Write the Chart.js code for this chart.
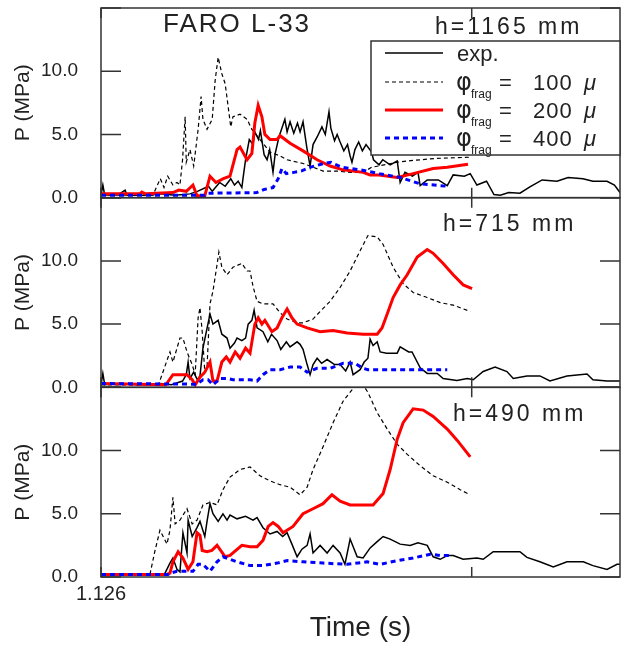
<!DOCTYPE html>
<html>
<head>
<meta charset="utf-8">
<script src="https://cdn.jsdelivr.net/npm/chart.js@4.4.1/dist/chart.umd.min.js"></script>
<style>
  html, body { margin: 0; padding: 0; background: #fff; }
  #wrap { width: 621px; height: 645px; }
</style>
</head>
<body>
<div id="wrap"><canvas id="faroChart" width="621" height="645"></canvas></div>
<script>
//------------------------------------------------------------------------------
// FARO L-33 壓力歷程：三個高度 (h=1165 / 715 / 490 mm)
// 時間以 t0 = 1.126 s 起算 (ms)，壓力單位 MPa，資料為 [t, P]

const T_MAX = 14;                 // 時間軸長度 (ms)
const xTickValues = [0, 10];      // 只有 t0 標字
const xTickLabels = ['1.126', ''];

const panelTitles = ['h=1165 mm', 'h=715 mm', 'h=490 mm'];
const seriesNames = ['exp.', '100', '200', '400'];   // 碎片粒徑 (μ)

// ---- h=1165 mm
const exp1165 = [[0,0.2],[0.05,1.0],[0.1,0.2],[0.5,0.3],[0.65,0.6],[0.7,0.2],[1.3,0.2],[1.6,0.3],[2.0,0.2],[2.4,0.3],
  [2.6,0.5],[2.9,0.9],[3.0,0.5],[3.2,1.2],[3.35,0.9],[3.5,1.5],[3.6,1.0],[3.7,1.3],[3.8,0.8],[3.83,1.5],[3.9,3.0],
  [4.0,4.6],[4.1,4.2],[4.15,5.2],[4.25,4.6],[4.3,5.3],[4.4,3.4],[4.48,3.0],[4.55,3.8],[4.64,2.0],[4.7,3.5],[4.8,4.8],
  [4.96,6.2],[5.02,5.2],[5.1,6.0],[5.2,5.1],[5.3,5.9],[5.37,5.2],[5.45,6.0],[5.55,4.0],[5.64,2.5],[5.72,4.2],[5.83,4.8],
  [5.96,5.6],[6.05,5.0],[6.15,6.8],[6.2,5.5],[6.3,4.5],[6.37,5.0],[6.45,4.4],[6.55,3.7],[6.65,4.2],[6.72,3.3],[6.77,2.8],
  [6.85,3.8],[6.95,4.4],[7.05,3.7],[7.15,4.2],[7.3,3.6],[7.35,3.0],[7.5,2.6],[7.6,3.0],[7.8,2.6],[7.99,2.9],[8.07,1.2],
  [8.2,2.0],[8.4,1.7],[8.55,2.0],[8.61,0.95],[8.8,1.4],[9.1,1.4],[9.34,0.95],[9.5,1.8],[9.8,1.7],[9.96,1.9],[10.14,1.0],
  [10.4,1.3],[10.6,0.25],[10.77,0.2],[11.0,0.4],[11.3,0.35],[11.57,0.85],[11.9,1.4],[12.3,1.3],[12.6,1.6],[13.0,1.5],
  [13.27,1.3],[13.65,1.3],[13.85,1.0],[14.0,0.4]];
const d100_1165 = [[0,0.2],[1.4,0.2],[1.6,1.5],[1.7,0.8],[1.8,1.7],[1.94,1.0],[2.05,1.2],[2.13,1.0],[2.2,3.0],[2.27,6.4],
  [2.3,2.8],[2.4,3.8],[2.5,2.5],[2.62,5.4],[2.7,8.0],[2.75,6.2],[2.86,5.4],[3.0,6.2],[3.08,9.3],[3.16,11.1],[3.26,9.8],
  [3.35,9.0],[3.43,7.2],[3.5,5.6],[3.56,6.4],[3.75,6.6],[3.94,6.2],[4.07,5.4],[4.29,4.6],[4.56,3.6],[4.83,3.3],[5.02,3.0],
  [5.45,2.7],[5.64,2.5],[5.99,2.1],[6.37,2.1],[6.72,2.0],[7.07,2.0],[7.3,2.4],[7.99,2.8],[8.26,2.9],[9.0,3.1],[9.96,3.2]];
const d200_1165 = [[0,0.3],[1.05,0.3],[1.1,0.45],[1.2,0.3],[1.94,0.4],[2.1,0.6],[2.3,0.5],[2.48,1.0],[2.59,0.15],[2.8,0.15],
  [2.94,1.7],[3.1,1.2],[3.3,1.5],[3.48,1.7],[3.67,3.8],[3.75,4.0],[3.94,3.0],[4.07,3.5],[4.15,5.9],[4.24,7.3],[4.34,6.4],
  [4.42,5.0],[4.56,4.6],[4.75,4.6],[4.83,4.9],[5.1,4.3],[5.45,3.7],[5.83,3.0],[6.18,2.5],[6.53,2.2],[7.07,2.0],[7.26,1.8],
  [7.5,1.8],[7.99,1.6],[8.42,1.9],[8.96,2.3],[9.34,2.4],[9.9,2.65]];
const d400_1165 = [[0,0.2],[2.8,0.2],[2.9,0.35],[4.2,0.4],[4.4,0.65],[4.64,0.8],[4.78,1.5],[4.88,2.3],[5.0,1.9],[5.2,2.0],
  [5.4,2.1],[5.64,2.4],[6.0,2.7],[6.2,2.8],[6.5,2.4],[7.0,2.2],[7.5,1.9],[8.07,1.6],[8.6,1.1],[9.34,0.9]];

// ---- h=715 mm
const exp715 = [[0,0.2],[0.05,1.1],[0.1,0.2],[0.5,0.3],[1.0,0.2],[1.6,0.3],[1.9,0.2],[2.2,0.5],[2.3,1.0],[2.35,2.0],
  [2.4,0.7],[2.5,1.2],[2.6,0.6],[2.67,0.9],[2.75,3.1],[2.94,5.8],[3.02,5.0],[3.16,5.3],[3.26,4.2],[3.4,3.9],[3.48,3.1],
  [3.6,3.5],[3.67,3.9],[3.8,3.7],[3.9,3.9],[3.97,5.0],[4.07,5.3],[4.13,6.1],[4.21,4.7],[4.37,4.4],[4.5,3.6],[4.6,4.2],
  [4.75,3.7],[4.85,3.0],[5.0,3.6],[5.1,3.2],[5.29,3.6],[5.37,3.4],[5.45,3.0],[5.56,1.8],[5.64,1.0],[5.72,1.8],[5.83,2.3],
  [5.95,1.9],[6.1,2.2],[6.3,1.8],[6.45,1.8],[6.6,1.3],[6.72,2.0],[6.8,1.0],[6.99,1.4],[7.1,2.0],[7.2,2.3],[7.26,3.8],
  [7.34,3.3],[7.45,3.6],[7.53,2.8],[7.7,2.7],[7.99,2.7],[8.07,3.2],[8.3,2.8],[8.39,2.8],[8.61,1.55],[8.8,1.1],[9.07,1.1],
  [9.23,0.7],[9.6,0.55],[9.88,0.7],[10.04,0.6],[10.31,1.25],[10.63,1.6],[10.95,1.25],[11.12,0.7],[11.49,0.9],[11.84,0.9],
  [12.11,0.5],[12.57,0.9],[13.11,1.05],[13.27,0.6],[13.65,0.5],[14.0,0.5]];
const d100_715 = [[0,0.2],[1.55,0.2],[1.86,2.8],[1.94,2.0],[2.13,3.9],[2.21,3.9],[2.32,2.8],[2.46,1.8],[2.54,1.0],[2.62,5.5],
  [2.67,6.3],[2.73,4.4],[2.8,1.2],[2.86,1.6],[2.94,6.6],[3.02,7.6],[3.13,9.7],[3.18,10.7],[3.26,9.5],[3.4,8.9],[3.56,9.5],
  [3.8,9.8],[3.94,9.2],[4.02,9.2],[4.1,8.0],[4.21,6.8],[4.37,6.6],[4.64,6.6],[4.83,5.9],[5.02,5.4],[5.29,5.1],[5.45,5.1],
  [5.72,5.4],[5.91,6.0],[6.18,6.8],[6.45,7.9],[6.72,9.2],[6.99,10.8],[7.2,12.0],[7.45,11.9],[7.61,11.3],[7.88,9.5],
  [8.15,8.2],[8.42,7.5],[8.8,7.1],[9.15,6.7],[9.5,6.5],[9.96,6.0]];
const d200_715 = [[0,0.3],[1.75,0.2],[1.94,1.0],[2.32,1.0],[2.46,0.6],[2.54,0.2],[2.67,0.8],[2.8,1.2],[2.94,2.0],[3.02,0.5],
  [3.13,0.5],[3.26,2.0],[3.38,2.4],[3.48,2.0],[3.62,2.8],[3.75,2.3],[3.9,3.1],[4.02,2.7],[4.15,5.0],[4.24,5.5],[4.34,5.0],
  [4.42,5.3],[4.61,4.4],[4.75,4.7],[4.88,5.5],[5.02,6.2],[5.15,5.5],[5.29,5.0],[5.56,4.7],[5.91,4.4],[6.26,4.5],[6.64,4.3],
  [7.07,4.2],[7.45,4.2],[7.58,4.7],[7.72,5.8],[7.88,7.1],[8.07,8.1],[8.26,8.9],[8.53,10.3],[8.8,10.9],[8.96,10.6],
  [9.23,9.8],[9.5,8.9],[9.77,8.1],[10.01,7.8]];
const d400_715 = [[0,0.3],[2.59,0.25],[2.75,0.6],[2.89,0.6],[3.02,0.2],[3.21,0.7],[3.4,0.7],[3.56,0.6],[4.02,0.6],[4.21,0.5],
  [4.37,1.0],[4.56,1.4],[4.83,1.4],[5.1,1.6],[5.37,1.6],[5.56,1.2],[5.83,1.5],[6.18,1.5],[6.53,1.9],[6.85,1.9],[7.07,1.5],
  [7.2,1.4],[9.34,1.4]];

// ---- h=490 mm
const exp490 = [[0,0.2],[1.6,0.2],[1.7,0.15],[1.86,1.1],[1.94,1.5],[2.05,0.6],[2.13,0.4],[2.21,3.5],[2.32,1.9],[2.35,4.5],
  [2.46,3.2],[2.59,3.9],[2.67,4.4],[2.8,3.2],[2.86,4.4],[2.94,5.8],[3.02,5.0],[3.16,4.4],[3.29,5.0],[3.4,4.5],[3.48,4.9],
  [3.67,4.6],[3.9,4.8],[4.1,4.5],[4.21,4.7],[4.37,3.9],[4.56,3.4],[4.75,3.6],[4.9,3.2],[5.02,3.5],[5.15,2.6],[5.29,1.6],
  [5.42,2.2],[5.56,2.5],[5.64,3.4],[5.72,1.9],[5.91,2.5],[6.1,1.9],[6.26,2.5],[6.45,1.9],[6.58,1.0],[6.72,3.0],[6.91,1.6],
  [7.07,1.5],[7.26,2.3],[7.45,2.8],[7.61,3.2],[7.8,3.0],[8.07,2.6],[8.34,2.5],[8.55,2.7],[8.8,2.5],[8.96,1.6],[9.15,1.4],
  [9.34,1.7],[9.5,1.7],[9.77,1.4],[10.14,1.5],[10.31,1.4],[10.58,2.0],[11.0,2.0],[11.3,2.0],[11.49,1.55],[11.84,1.2],
  [12.2,0.8],[12.57,1.2],[13.01,1.2],[13.27,0.9],[13.65,0.6],[13.92,1.0],[14.0,1.0]];
const d100_490 = [[0,0.2],[1.32,0.2],[1.45,2.0],[1.59,3.7],[1.78,2.6],[1.86,3.7],[1.94,6.3],[2.0,4.2],[2.13,4.5],[2.32,5.4],
  [2.46,4.2],[2.59,4.5],[2.75,5.7],[2.94,5.9],[3.13,5.7],[3.29,6.9],[3.48,7.9],[3.75,8.5],[4.02,8.7],[4.29,8.0],[4.56,7.6],
  [4.83,7.3],[5.1,7.1],[5.37,6.5],[5.56,7.1],[5.72,8.5],[5.99,10.3],[6.26,12.2],[6.53,13.9],[6.77,14.8],[6.91,15.2],
  [7.07,15.2],[7.2,14.6],[7.45,13.0],[7.72,11.7],[7.99,10.5],[8.26,9.7],[8.61,8.8],[8.96,8.0],[9.34,7.5],[9.69,6.9],[9.96,6.5]];
const d200_490 = [[0,0.2],[1.78,0.2],[1.86,0.3],[1.94,1.2],[2.08,2.0],[2.21,1.5],[2.35,0.6],[2.48,1.2],[2.59,3.5],[2.67,3.3],
  [2.73,2.1],[2.86,2.0],[2.99,2.1],[3.13,2.5],[3.35,1.6],[3.48,1.7],[3.8,2.5],[4.02,2.4],[4.21,2.4],[4.37,2.9],[4.51,4.0],
  [4.64,4.3],[4.78,4.0],[4.91,3.5],[5.18,4.0],[5.45,5.0],[5.72,5.4],[5.99,5.8],[6.23,6.5],[6.45,6.0],[6.72,5.7],[7.07,5.7],
  [7.34,5.7],[7.61,6.6],[7.8,8.5],[7.99,10.9],[8.15,12.2],[8.42,13.3],[8.69,13.2],[8.96,12.7],[9.34,11.7],[9.61,10.8],[9.96,9.5]];
const d400_490 = [[0,0.2],[1.8,0.2],[1.86,0.3],[2.05,0.45],[2.48,0.45],[2.62,1.0],[2.75,1.0],[2.94,0.45],[3.13,1.2],[3.29,1.6],
  [3.48,1.4],[3.67,1.2],[4.02,0.9],[4.37,0.9],[4.75,1.1],[5.02,1.3],[5.45,1.2],[5.99,1.1],[6.64,1.0],[7.18,1.2],[7.53,1.0],
  [7.99,1.3],[8.42,1.5],[8.88,1.8],[9.15,1.7],[9.42,1.7]];

//------------------------------------------------------------------------------
// 線條樣式：exp. / 100 / 200 / 400
const lineColors = ['#000000', '#000000', '#ff0000', '#0000ff'];
const lineWidths = [1.5, 1.2, 3, 3];
const lineDashes = [[], [4, 3], [], [5, 4]];
const lineOrder  = [4, 3, 2, 1];   // 數字小的畫在上層

const panelAxes = ['yTop', 'yMid', 'yBot'];
const panelSeries = [
  [exp1165, d100_1165, d200_1165, d400_1165],
  [exp715,  d100_715,  d200_715,  d400_715],
  [exp490,  d100_490,  d200_490,  d400_490]
];

const datasets = [];
panelSeries.forEach(function(series, p) {
  series.forEach(function(pts, s) {
    datasets.push({
      label: panelTitles[p] + ' ' + seriesNames[s],
      data: pts.map(d => ({ x: d[0], y: d[1] })),
      yAxisID: panelAxes[p],
      borderColor: lineColors[s],
      borderWidth: lineWidths[s],
      borderDash: lineDashes[s],
      pointRadius: 0,
      tension: 0,
      fill: false,
      clip: 0,
      order: lineOrder[s]
    });
  });
});

const TEXT = '#222';
const FONT = "'Liberation Sans', Arial, sans-serif";

// 每個子圖的 y 軸 (0–15 MPa，每 2.5 一格，標字只到 10.0)
function panelAxis(weight) {
  return {
    type: 'linear',
    position: 'left',
    stack: 'panels',
    stackWeight: 1,
    weight: weight,
    min: 0,
    max: 15,
    afterFit: function(scale) {
      scale.width = 101;
      scale.paddingTop = 0;      // 不替刻度字預留上下空間
      scale.paddingBottom = 0;
    },
    grid: { display: false },
    border: { display: false },
    ticks: {
      stepSize: 2.5,
      padding: 15,
      color: TEXT,
      font: { family: FONT, size: 19 },
      callback: v => (v % 5 === 0 && v < 15) ? v.toFixed(1) : ''
    },
    title: {
      display: true,
      text: 'P (MPa)',
      color: TEXT,
      font: { family: FONT, size: 21 },
      padding: { top: 11, bottom: 0 }
    }
  };
}

//------------------------------------------------------------------------------
// 外框、內側刻度、標題與圖例
const panelFrame = {
  id: 'panelFrame',
  afterDatasetsDraw(chart) {
    const ctx = chart.ctx;
    const area = chart.chartArea;
    const xs = chart.scales.x;
    ctx.save();
    ctx.strokeStyle = '#333';
    ctx.lineWidth = 1.5;
    panelAxes.forEach(function(id) {
      const ys = chart.scales[id];
      ctx.strokeRect(area.left, ys.top, area.right - area.left, ys.bottom - ys.top);
      ctx.beginPath();
      ys.ticks.forEach(function(tk) {
        const y = ys.getPixelForValue(tk.value);
        const len = tk.value % 5 === 0 ? 20 : 10;
        ctx.moveTo(area.left, y);  ctx.lineTo(area.left + len, y);
        ctx.moveTo(area.right, y); ctx.lineTo(area.right - len, y);
      });
      xTickValues.forEach(function(v) {
        const x = xs.getPixelForValue(v);
        ctx.moveTo(x, ys.top);    ctx.lineTo(x, ys.top + 10);
        ctx.moveTo(x, ys.bottom); ctx.lineTo(x, ys.bottom - 10);
      });
      ctx.stroke();
    });
    ctx.restore();
  },
  afterDraw(chart) {
    const ctx = chart.ctx;
    const area = chart.chartArea;
    ctx.save();
    ctx.fillStyle = TEXT;
    ctx.textBaseline = 'alphabetic';
    ctx.textAlign = 'left';

    // 實驗名稱與各高度
    ctx.letterSpacing = '2px';
    ctx.font = '26px ' + FONT;
    ctx.fillText('FARO L-33', 163, 32);
    ctx.letterSpacing = '3px';
    ctx.font = '23px ' + FONT;
    const titleX = [435, 443, 453];
    const titleY = [34, 231, 421];
    panelTitles.forEach((t, i) => ctx.fillText(t, titleX[i], titleY[i]));
    ctx.letterSpacing = '0px';

    // 圖例
    const box = { left: 371, top: 41, right: area.right, bottom: 155 };
    ctx.fillStyle = '#fff';
    ctx.fillRect(box.left, box.top, box.right - box.left, box.bottom - box.top);
    ctx.strokeStyle = '#333';
    ctx.lineWidth = 1.5;
    ctx.strokeRect(box.left, box.top, box.right - box.left, box.bottom - box.top);

    const rowY = [53, 82, 110, 138];
    seriesNames.forEach(function(name, s) {
      const ds = chart.data.datasets[s];
      const y = rowY[s];
      ctx.save();
      ctx.strokeStyle = ds.borderColor;
      ctx.lineWidth = ds.borderWidth;
      ctx.setLineDash(ds.borderDash);
      ctx.beginPath();
      ctx.moveTo(385, y);
      ctx.lineTo(443, y);
      ctx.stroke();
      ctx.restore();

      ctx.fillStyle = TEXT;
      if (s === 0) {
        ctx.font = '22px ' + FONT;
        ctx.fillText(name, 457, y + 8);
      } else {
        ctx.font = "24px 'DejaVu Sans', sans-serif";
        ctx.fillText('\u03c6', 456, y + 8);
        ctx.font = '12px ' + FONT;
        ctx.fillText('frag', 471, y + 16);
        ctx.font = '22px ' + FONT;
        ctx.fillText('=', 499, y + 8);
        ctx.letterSpacing = '1px';
        ctx.fillText(name, 533, y + 8);
        ctx.letterSpacing = '0px';
        ctx.font = 'italic 22px ' + FONT;
        ctx.fillText('\u03bc', 584, y + 8);
      }
    });
    ctx.restore();
  }
};

const ctxFaro = document.getElementById('faroChart').getContext('2d');
const faroChart = new Chart(ctxFaro, {
  type: 'line',
  data: { datasets: datasets },
  options: {
    responsive: false,
    animation: false,
    events: [],
    layout: { padding: { left: 0, right: 1, top: 8, bottom: 0 } },
    plugins: {
      legend: { display: false },
      tooltip: { enabled: false }
    },
    scales: {
      x: {
        type: 'linear',
        position: 'bottom',
        min: 0,
        max: T_MAX,
        afterFit: function(scale) {
          scale.height = 68;
          scale.paddingLeft = 0;
          scale.paddingRight = 0;
        },
        afterBuildTicks: function(scale) {
          scale.ticks = xTickValues.map(v => ({ value: v }));
        },
        grid: { display: false },
        border: { display: false },
        ticks: {
          padding: -3,
          maxRotation: 0,
          autoSkip: false,
          color: TEXT,
          font: { family: FONT, size: 20 },
          callback: function(v) {
            const i = xTickValues.indexOf(v);
            return i >= 0 ? xTickLabels[i] : '';
          }
        },
        title: {
          display: true,
          text: 'Time (s)',
          color: TEXT,
          font: { family: FONT, size: 28 },
          padding: { top: 0, bottom: 0 }
        }
      },
      yBot: panelAxis(1),
      yMid: panelAxis(2),
      yTop: panelAxis(3)
    }
  },
  plugins: [panelFrame]
});
</script>
</body>
</html>
